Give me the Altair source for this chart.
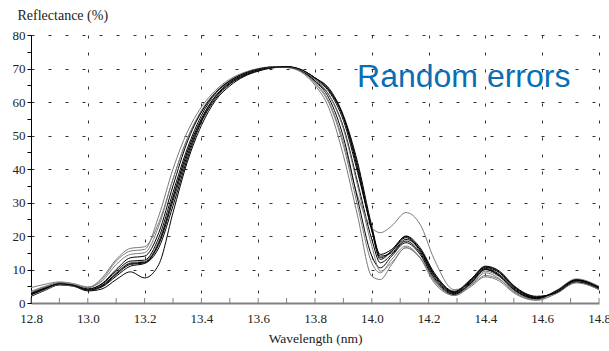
import altair as alt
import pandas as pd

wavelength = [12.8, 12.85, 12.9, 12.95, 13.0, 13.05, 13.1, 13.15, 13.2, 13.25,
              13.3, 13.35, 13.4, 13.45, 13.5, 13.55, 13.6, 13.65, 13.7, 13.75,
              13.8, 13.85, 13.9, 13.95, 14.0, 14.03, 14.07, 14.12, 14.17, 14.22,
              14.29, 14.35, 14.4, 14.45, 14.5, 14.58, 14.65, 14.72, 14.8]

curve_a = [2.8, 4.5, 5.8, 5.3, 4.0, 5.0, 8.5, 11.5, 12.0, 17.5, 30.5, 44, 54.5, 61.5, 65.5, 68, 69.5, 70.3, 70.5, 69.5,
           66.8, 63, 54.5, 39, 22, 13.5, 15.5, 19.5, 15.5, 8, 3, 6.5, 10.3, 8.5, 4.5, 1.5, 3.5, 6.8, 4.5]
curve_b = [2.3, 4.0, 5.5, 5.2, 3.8, 4.8, 8.0, 11.0, 11.8, 16.5, 29, 43, 54, 61, 65.3, 67.8, 69.4, 70.2, 70.5, 69.7,
           67.2, 64, 56, 42, 23, 14, 15, 19, 16, 8.5, 3.2, 6.8, 10.6, 9, 4.8, 1.6, 3.3, 6.6, 4.2]
curve_c = [3.0, 4.7, 6.0, 5.4, 4.2, 5.6, 9.5, 12.5, 12.8, 19.5, 33, 46, 56, 62.5, 66.2, 68.5, 69.8, 70.4, 70.4, 69.3,
           66.3, 62, 52.5, 36, 19, 12, 14.5, 18.5, 15, 7.5, 2.8, 6.2, 10, 8.2, 4.2, 1.4, 3.6, 7.0, 4.8]
curve_d = [3.5, 5.0, 6.0, 5.5, 4.5, 7.0, 12.5, 15.5, 16.0, 26, 40, 51, 58.5, 63.5, 66.8, 68.8, 70, 70.5, 70.3, 69,
           65, 58, 44, 26, 8, 7, 11.5, 16.5, 13.5, 6.5, 2.5, 5.8, 9.5, 7.8, 3.8, 1.2, 3.4, 6.6, 4.6]
curve_e = [4.6, 5.6, 6.3, 5.8, 4.8, 6.5, 11.5, 14.5, 15.0, 23, 37, 49, 57.5, 63, 66.5, 68.6, 69.9, 70.4, 70.3, 69.2,
           65.8, 60, 48, 32, 22.5, 21, 23, 27, 23.5, 13, 4, 5.5, 8.2, 7.0, 3.5, 1.0, 3.0, 6.2, 4.3]
curve_f = [2.0, 3.8, 5.4, 5.0, 3.6, 4.2, 7.0, 9.3, 7.5, 11.5, 27, 42, 53, 60.5, 64.8, 67.6, 69.2, 70.2, 70.5, 69.6,
           67.2, 63.5, 55.5, 41, 22, 14.5, 16, 20, 16.5, 9, 3.5, 7.2, 11, 9.5, 5.2, 2.0, 3.0, 6.3, 4.0]
curve_g = [3.2, 4.8, 5.9, 5.4, 4.6, 7.5, 13, 16.3, 16.8, 24, 37, 49, 57, 62.5, 66, 68.3, 69.7, 70.4, 70.4, 69.2,
           65.5, 59.5, 47, 29, 12, 9, 13, 17, 13.5, 6, 2.3, 5.4, 9, 7.2, 3.3, 1.0, 3.8, 7.2, 5.0]
curve_h = [2.6, 4.3, 5.7, 5.3, 4.1, 5.8, 10, 13.5, 14.0, 21, 35, 48, 57, 62.8, 66.3, 68.5, 69.8, 70.4, 70.4, 69.4,
           66.2, 61, 49.5, 31, 14, 10.5, 14, 18, 14.5, 7, 2.6, 6.0, 10, 8, 4.0, 1.3, 3.6, 6.9, 4.7]
curve_i = [2.2, 3.9, 5.5, 5.1, 3.9, 5.2, 9, 12, 12.5, 18.5, 32, 45, 55, 61.8, 65.8, 68.2, 69.6, 70.3, 70.5, 69.5,
           66.8, 62, 52, 35, 17, 9.5, 12, 16.5, 13.5, 7, 2.2, 5.0, 7.8, 6.5, 3.0, 0.8, 2.8, 6.0, 4.0]
curve_j = [2.5, 4.3, 5.7, 5.2, 3.9, 5.2, 8.8, 11.8, 12.2, 18, 31.5, 45, 55, 61.8, 65.8, 68.2, 69.6, 70.3, 70.6, 69.7,
           67.2, 63.5, 55.5, 40, 21.5, 13, 15.5, 19.8, 16, 8.5, 3.3, 6.9, 10.8, 9.2, 5.0, 1.8, 3.2, 6.7, 4.4]

curve_names = ["A", "B", "C", "D", "E", "F", "G", "H", "I", "J"]
curve_colors = ["#000000", "#000000", "#000000", "#7a7a7a", "#7a7a7a",
                "#000000", "#7a7a7a", "#000000", "#7a7a7a", "#000000"]
curves = [curve_a, curve_b, curve_c, curve_d, curve_e, curve_f, curve_g, curve_h, curve_i, curve_j]

x_ticks = [12.8, 12.9, 13.0, 13.1, 13.2, 13.3, 13.4, 13.5, 13.6, 13.7, 13.8,
           13.9, 14.0, 14.1, 14.2, 14.3, 14.4, 14.5, 14.6, 14.7, 14.8]
y_ticks = [0, 5, 10, 15, 20, 25, 30, 35, 40, 45, 50, 55, 60, 65, 70, 75, 80]

note_text = ["Random errors"]
note_x = [13.948]
note_y = [64.5]

rows = []
for name, vals in zip(curve_names, curves):
    for wl, r in zip(wavelength, vals):
        rows.append({"curve": name, "wl": wl, "r": r})
df = pd.DataFrame(rows)
df_note = pd.DataFrame({"wl": note_x, "r": note_y, "label": note_text})
df_xticks = pd.DataFrame({"wl": x_ticks})

serif = "Liberation Serif"
major_x = "round(datum.value*10) % 2 == 0"
major_y = "round(datum.value) % 10 == 0"

x_scale = alt.Scale(domain=[12.8, 14.8], nice=False, zero=False)
y_scale = alt.Scale(domain=[0, 80], nice=False)

x_axis = alt.Axis(
    values=x_ticks,
    labelExpr=f"{major_x} ? format(datum.value, '.1f') : ''",
    labelOverlap=False,
    labelFlush=False,
    labelFont=serif,
    labelFontSize=13,
    labelColor="#222222",
    labelPadding=9,
    ticks=False,
    domainColor="#808080",
    domainWidth=2,
    grid=True,
    gridColor="#333333",
    gridDash=[3, 14],
    gridOpacity={"condition": {"test": major_x, "value": 1}, "value": 0},
    title="Wavelength (nm)",
    titleFont=serif,
    titleFontSize=13.5,
    titleFontWeight="normal",
    titleColor="#222222",
    titlePadding=6,
)

y_axis = alt.Axis(
    values=y_ticks,
    labelExpr=f"{major_y} ? format(datum.value, 'd') : ''",
    labelOverlap=False,
    labelFlush=False,
    labelFont=serif,
    labelFontSize=13,
    labelColor="#222222",
    labelPadding=2,
    tickSize=4,
    tickColor="#000000",
    domainColor="#000000",
    grid=True,
    gridColor="#333333",
    gridDash=[3, 14],
    gridOpacity={"condition": {"test": major_y, "value": 1}, "value": 0},
    title="Reflectance (%)",
    titleFont=serif,
    titleFontSize=14,
    titleFontWeight="normal",
    titleColor="#222222",
    titleAngle=0,
    titleAlign="left",
    titleBaseline="middle",
    titleX=-14,
    titleY=-20,
)

lines = alt.Chart(df).mark_line(strokeWidth=1, interpolate="monotone", clip=True).encode(
    x=alt.X("wl:Q", scale=x_scale, axis=x_axis),
    y=alt.Y("r:Q", scale=y_scale, axis=y_axis),
    color=alt.Color("curve:N", scale=alt.Scale(domain=curve_names, range=curve_colors), legend=None),
    detail="curve:N",
)

# small inward-pointing ticks on the wavelength axis
xticks_layer = alt.Chart(df_xticks).mark_rule(color="#808080", strokeWidth=1).encode(
    x=alt.X("wl:Q", scale=x_scale, axis=x_axis),
    y=alt.value(263),
    y2=alt.value(268),
)

note = alt.Chart(df_note).mark_text(
    font="Liberation Sans", fontSize=32, color="#0a6eb4", align="left", baseline="alphabetic"
).encode(
    x=alt.X("wl:Q", scale=x_scale, axis=x_axis),
    y=alt.Y("r:Q", scale=y_scale, axis=y_axis),
    text="label:N",
)

chart = alt.layer(lines, xticks_layer, note).properties(
    width=568,
    height=268,
    padding={"left": 31, "top": 35, "right": 10, "bottom": 48},
    autosize=alt.AutoSizeParams(type="none"),
    background="white",
).configure_view(stroke=None)

chart.save("out.html", embed_options={"renderer": "svg", "actions": False})
